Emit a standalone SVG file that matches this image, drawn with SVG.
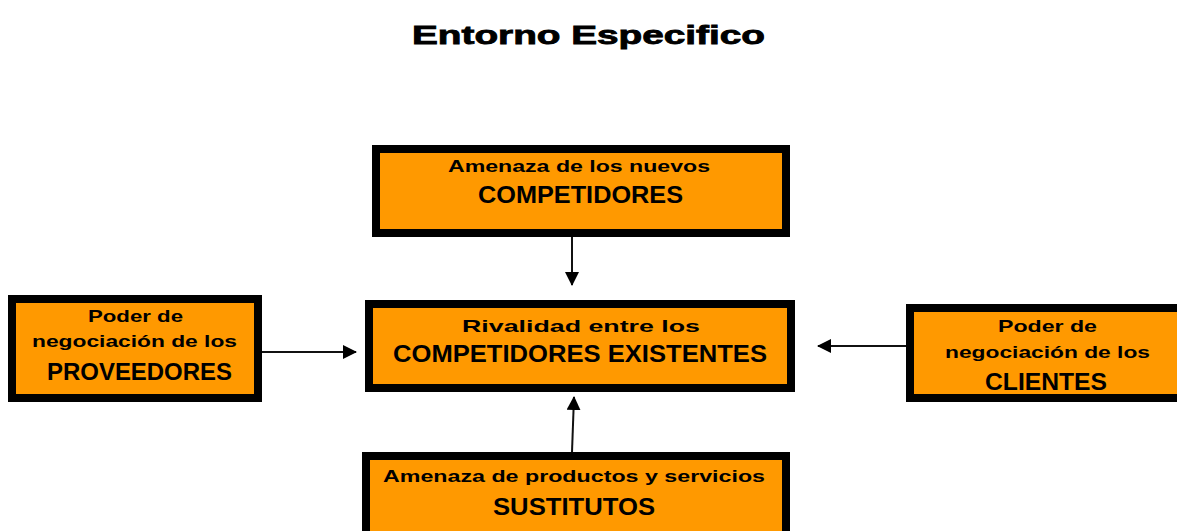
<svg xmlns="http://www.w3.org/2000/svg" width="1177" height="531" viewBox="0 0 1177 531">
<defs>
<style>
.box{fill:#FF9900;stroke:#000;stroke-width:8}
.t{font-family:"Liberation Sans",Arial,sans-serif;font-weight:bold;fill:#000;text-anchor:start}
.s{font-size:17px}
.c{font-size:23px}
.edge{stroke:#111;stroke-width:2;fill:none;marker-end:url(#ah)}
</style>
<marker id="ah" viewBox="0 0 14 14" refX="13" refY="7" markerWidth="14" markerHeight="14" markerUnits="userSpaceOnUse" orient="auto">
<path d="M0,0 L14,7 L0,14 Z" fill="#000"/>
</marker>
</defs>
<rect width="1177" height="531" fill="#fff"/>
<text class="t" x="412" y="44" font-size="25" stroke="#000" stroke-width="0.8" textLength="353" lengthAdjust="spacingAndGlyphs">Entorno Especifico</text>

<g id="connectors">
<line class="edge" x1="572" y1="237" x2="572" y2="285"/>
<line class="edge" x1="262" y1="352" x2="356" y2="352"/>
<line class="edge" x1="906" y1="346" x2="818" y2="346"/>
<line class="edge" x1="572" y1="452" x2="574" y2="397"/>
</g>

<g id="node-nuevos">
<rect class="box" x="376" y="149" width="410" height="84"/>
<text class="t s" x="448" y="172" textLength="262" lengthAdjust="spacingAndGlyphs">Amenaza de los nuevos</text>
<text class="t c" x="478" y="203" textLength="205" lengthAdjust="spacingAndGlyphs">COMPETIDORES</text>
</g>

<g id="node-proveedores">
<rect class="box" x="12" y="299" width="246" height="99"/>
<text class="t s" x="88" y="322" textLength="95" lengthAdjust="spacingAndGlyphs">Poder de</text>
<text class="t s" x="32" y="347" textLength="205" lengthAdjust="spacingAndGlyphs">negociación de los</text>
<text class="t c" x="47" y="380" textLength="185" lengthAdjust="spacingAndGlyphs">PROVEEDORES</text>
</g>

<g id="node-rivalidad">
<rect class="box" x="369" y="304" width="422" height="84"/>
<text class="t s" x="462" y="332" font-size="19" textLength="238" lengthAdjust="spacingAndGlyphs">Rivalidad entre los</text>
<text class="t c" x="393" y="362" textLength="374" lengthAdjust="spacingAndGlyphs">COMPETIDORES EXISTENTES</text>
</g>

<g id="node-clientes">
<rect class="box" x="910" y="308" width="290" height="90"/>
<text class="t s" x="998" y="332" textLength="99" lengthAdjust="spacingAndGlyphs">Poder de</text>
<text class="t s" x="945" y="358" textLength="205" lengthAdjust="spacingAndGlyphs">negociación de los</text>
<text class="t c" x="985" y="390" textLength="122" lengthAdjust="spacingAndGlyphs">CLIENTES</text>
</g>

<g id="node-sustitutos">
<rect class="box" x="366" y="456" width="420" height="90"/>
<text class="t s" x="383" y="482" textLength="382" lengthAdjust="spacingAndGlyphs">Amenaza de productos y servicios</text>
<text class="t c" x="493" y="515" textLength="162" lengthAdjust="spacingAndGlyphs">SUSTITUTOS</text>
</g>
</svg>
